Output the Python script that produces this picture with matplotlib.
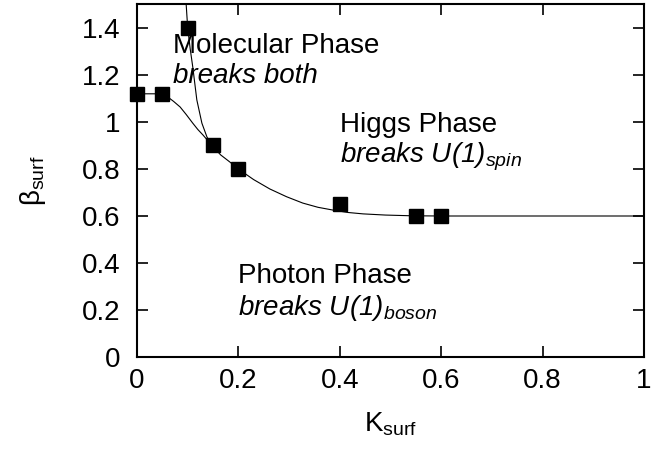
import matplotlib
matplotlib.use("Agg")
import matplotlib.pyplot as plt

plt.rcParams['font.family'] = ['Liberation Sans', 'DejaVu Sans']
plt.rcParams['mathtext.fontset'] = 'custom'
plt.rcParams['mathtext.rm'] = 'Liberation Sans'
plt.rcParams['mathtext.it'] = 'Liberation Sans:italic'
plt.rcParams['mathtext.sf'] = 'Liberation Sans:italic'

# measured data points
k_pts = [0.0, 0.05, 0.10, 0.15, 0.20, 0.40, 0.55, 0.60]
beta_pts = [1.12, 1.12, 1.40, 0.90, 0.80, 0.65, 0.60, 0.60]

# lower phase boundary curve
k_curve = [0.0, 0.05, 0.055, 0.061, 0.072, 0.085, 0.097, 0.11, 0.12, 0.13, 0.15, 0.165, 0.183, 0.2,
           0.23, 0.262, 0.295, 0.327, 0.357, 0.387, 0.416, 0.446, 0.49, 0.54, 0.6, 1.0]
beta_curve = [1.12, 1.12, 1.117, 1.106, 1.088, 1.064, 1.032, 0.995, 0.968, 0.945, 0.895, 0.86, 0.83, 0.80,
              0.755, 0.715, 0.682, 0.655, 0.637, 0.625, 0.615, 0.609, 0.604, 0.601, 0.60, 0.60]

# steep molecular boundary curve
k_steep = [0.097, 0.100, 0.105, 0.110, 0.118, 0.128, 0.138, 0.15]
beta_steep = [1.5, 1.40, 1.31, 1.234, 1.094, 0.995, 0.936, 0.895]

xticks = [0, 0.2, 0.4, 0.6, 0.8, 1]
xticklabels = ['0', '0.2', '0.4', '0.6', '0.8', '1']
yticks = [0, 0.2, 0.4, 0.6, 0.8, 1.0, 1.2, 1.4]
yticklabels = ['0', '0.2', '0.4', '0.6', '0.8', '1', '1.2', '1.4']

fig = plt.figure(figsize=(6.52, 4.49), dpi=100)
ax = fig.add_axes([137/652, 1-357/449, (644-137)/652, (357-4.5)/449])

ax.plot(k_curve, beta_curve, color='black', lw=0.8)
ax.plot(k_steep, beta_steep, color='black', lw=0.8)
ax.plot(k_pts, beta_pts, linestyle='none', marker='s', color='black', markersize=9.5, clip_on=False, zorder=5)

ax.set_xlim(0, 1)
ax.set_ylim(0, 1.5)
ax.set_xticks(xticks)
ax.set_xticklabels(xticklabels)
ax.set_yticks(yticks)
ax.set_yticklabels(yticklabels)
ax.tick_params(direction='in', length=8, width=1.2, labelsize=20, top=True, right=True)
ax.tick_params(axis='x', pad=8)
ax.tick_params(axis='y', pad=12)
for s in ax.spines.values():
    s.set_linewidth(1.5)

ax.set_xlabel(r'K$_{\mathregular{surf}}$', fontsize=20, labelpad=12)
ax.set_ylabel(r'$\mathregular{\beta}_{\mathregular{surf}}$', fontsize=20, labelpad=24)

fs = 20
ax.text(0.071, 1.294, 'Molecular Phase', fontsize=fs, va='baseline', ha='left')
ax.text(0.071, 1.166, 'breaks both', fontsize=fs, va='baseline', ha='left', style='italic')
ax.text(0.40, 0.957, 'Higgs Phase', fontsize=fs, va='baseline', ha='left')
ax.text(0.40, 0.826, r'$\mathsf{breaks\ U(1)_{spin}}$', fontsize=fs, va='baseline', ha='left')
ax.text(0.2, 0.315, 'Photon Phase', fontsize=fs, va='baseline', ha='left')
ax.text(0.2, 0.179, r'$\mathsf{breaks\ U(1)_{boson}}$', fontsize=fs, va='baseline', ha='left')

fig.savefig('out.png', dpi=100)
